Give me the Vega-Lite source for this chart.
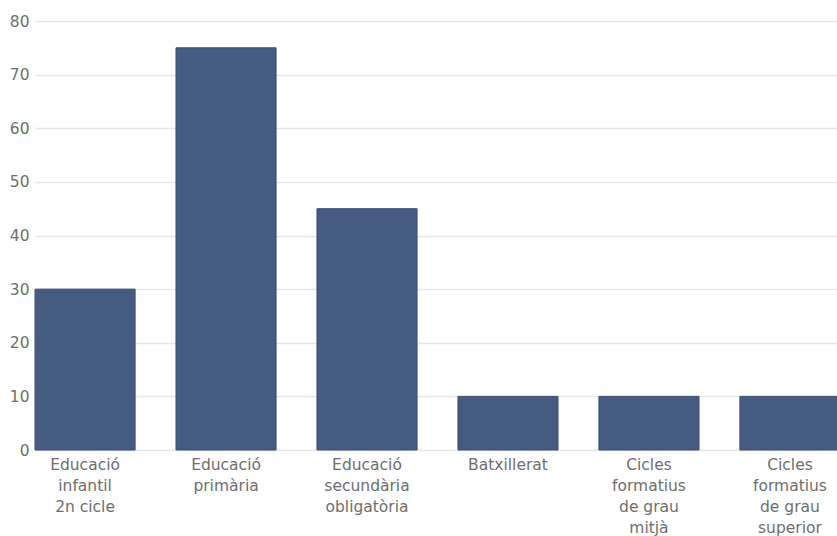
{
  "$schema": "https://vega.github.io/schema/vega-lite/v6.json",
  "width": 805,
  "height": 429,
  "autosize": {"type": "none"},
  "padding": {"left": 35, "top": 21, "right": 0, "bottom": 86},
  "background": "white",
  "config": {"view": {"stroke": null}, "font": "DejaVu Sans"},
  "data": {
    "values": [
      {"nivell": "Educació\ninfantil\n2n cicle", "ordre": 1, "valor": 30},
      {"nivell": "Educació\nprimària", "ordre": 2, "valor": 75},
      {"nivell": "Educació\nsecundària\nobligatòria", "ordre": 3, "valor": 45},
      {"nivell": "Batxillerat", "ordre": 4, "valor": 10},
      {"nivell": "Cicles\nformatius\nde grau\nmitjà", "ordre": 5, "valor": 10},
      {"nivell": "Cicles\nformatius\nde grau\nsuperior", "ordre": 6, "valor": 10}
    ]
  },
  "mark": {"type": "bar", "color": "#455b82", "stroke": "#3b4f73", "strokeWidth": 1},
  "encoding": {
    "x": {
      "field": "nivell",
      "type": "nominal",
      "sort": {"field": "ordre"},
      "scale": {"paddingInner": 0.29, "paddingOuter": 0},
      "axis": {
        "title": null,
        "labelAngle": 0,
        "labelExpr": "split(datum.value, '\\n')",
        "labelFontSize": 15.5,
        "labelColor": "#6e6e6e",
        "labelLineHeight": 21,
        "labelPadding": 7,
        "ticks": false,
        "domain": false,
        "labelBaseline": "top"
      }
    },
    "y": {
      "field": "valor",
      "type": "quantitative",
      "scale": {"domain": [0, 80]},
      "axis": {
        "title": null,
        "values": [0, 10, 20, 30, 40, 50, 60, 70, 80],
        "labelFontSize": 15.5,
        "labelColor": "#6e6e6e",
        "labelPadding": 6,
        "ticks": false,
        "domain": false,
        "gridColor": "#e6e6e6",
        "gridWidth": 1.5
      }
    }
  }
}
